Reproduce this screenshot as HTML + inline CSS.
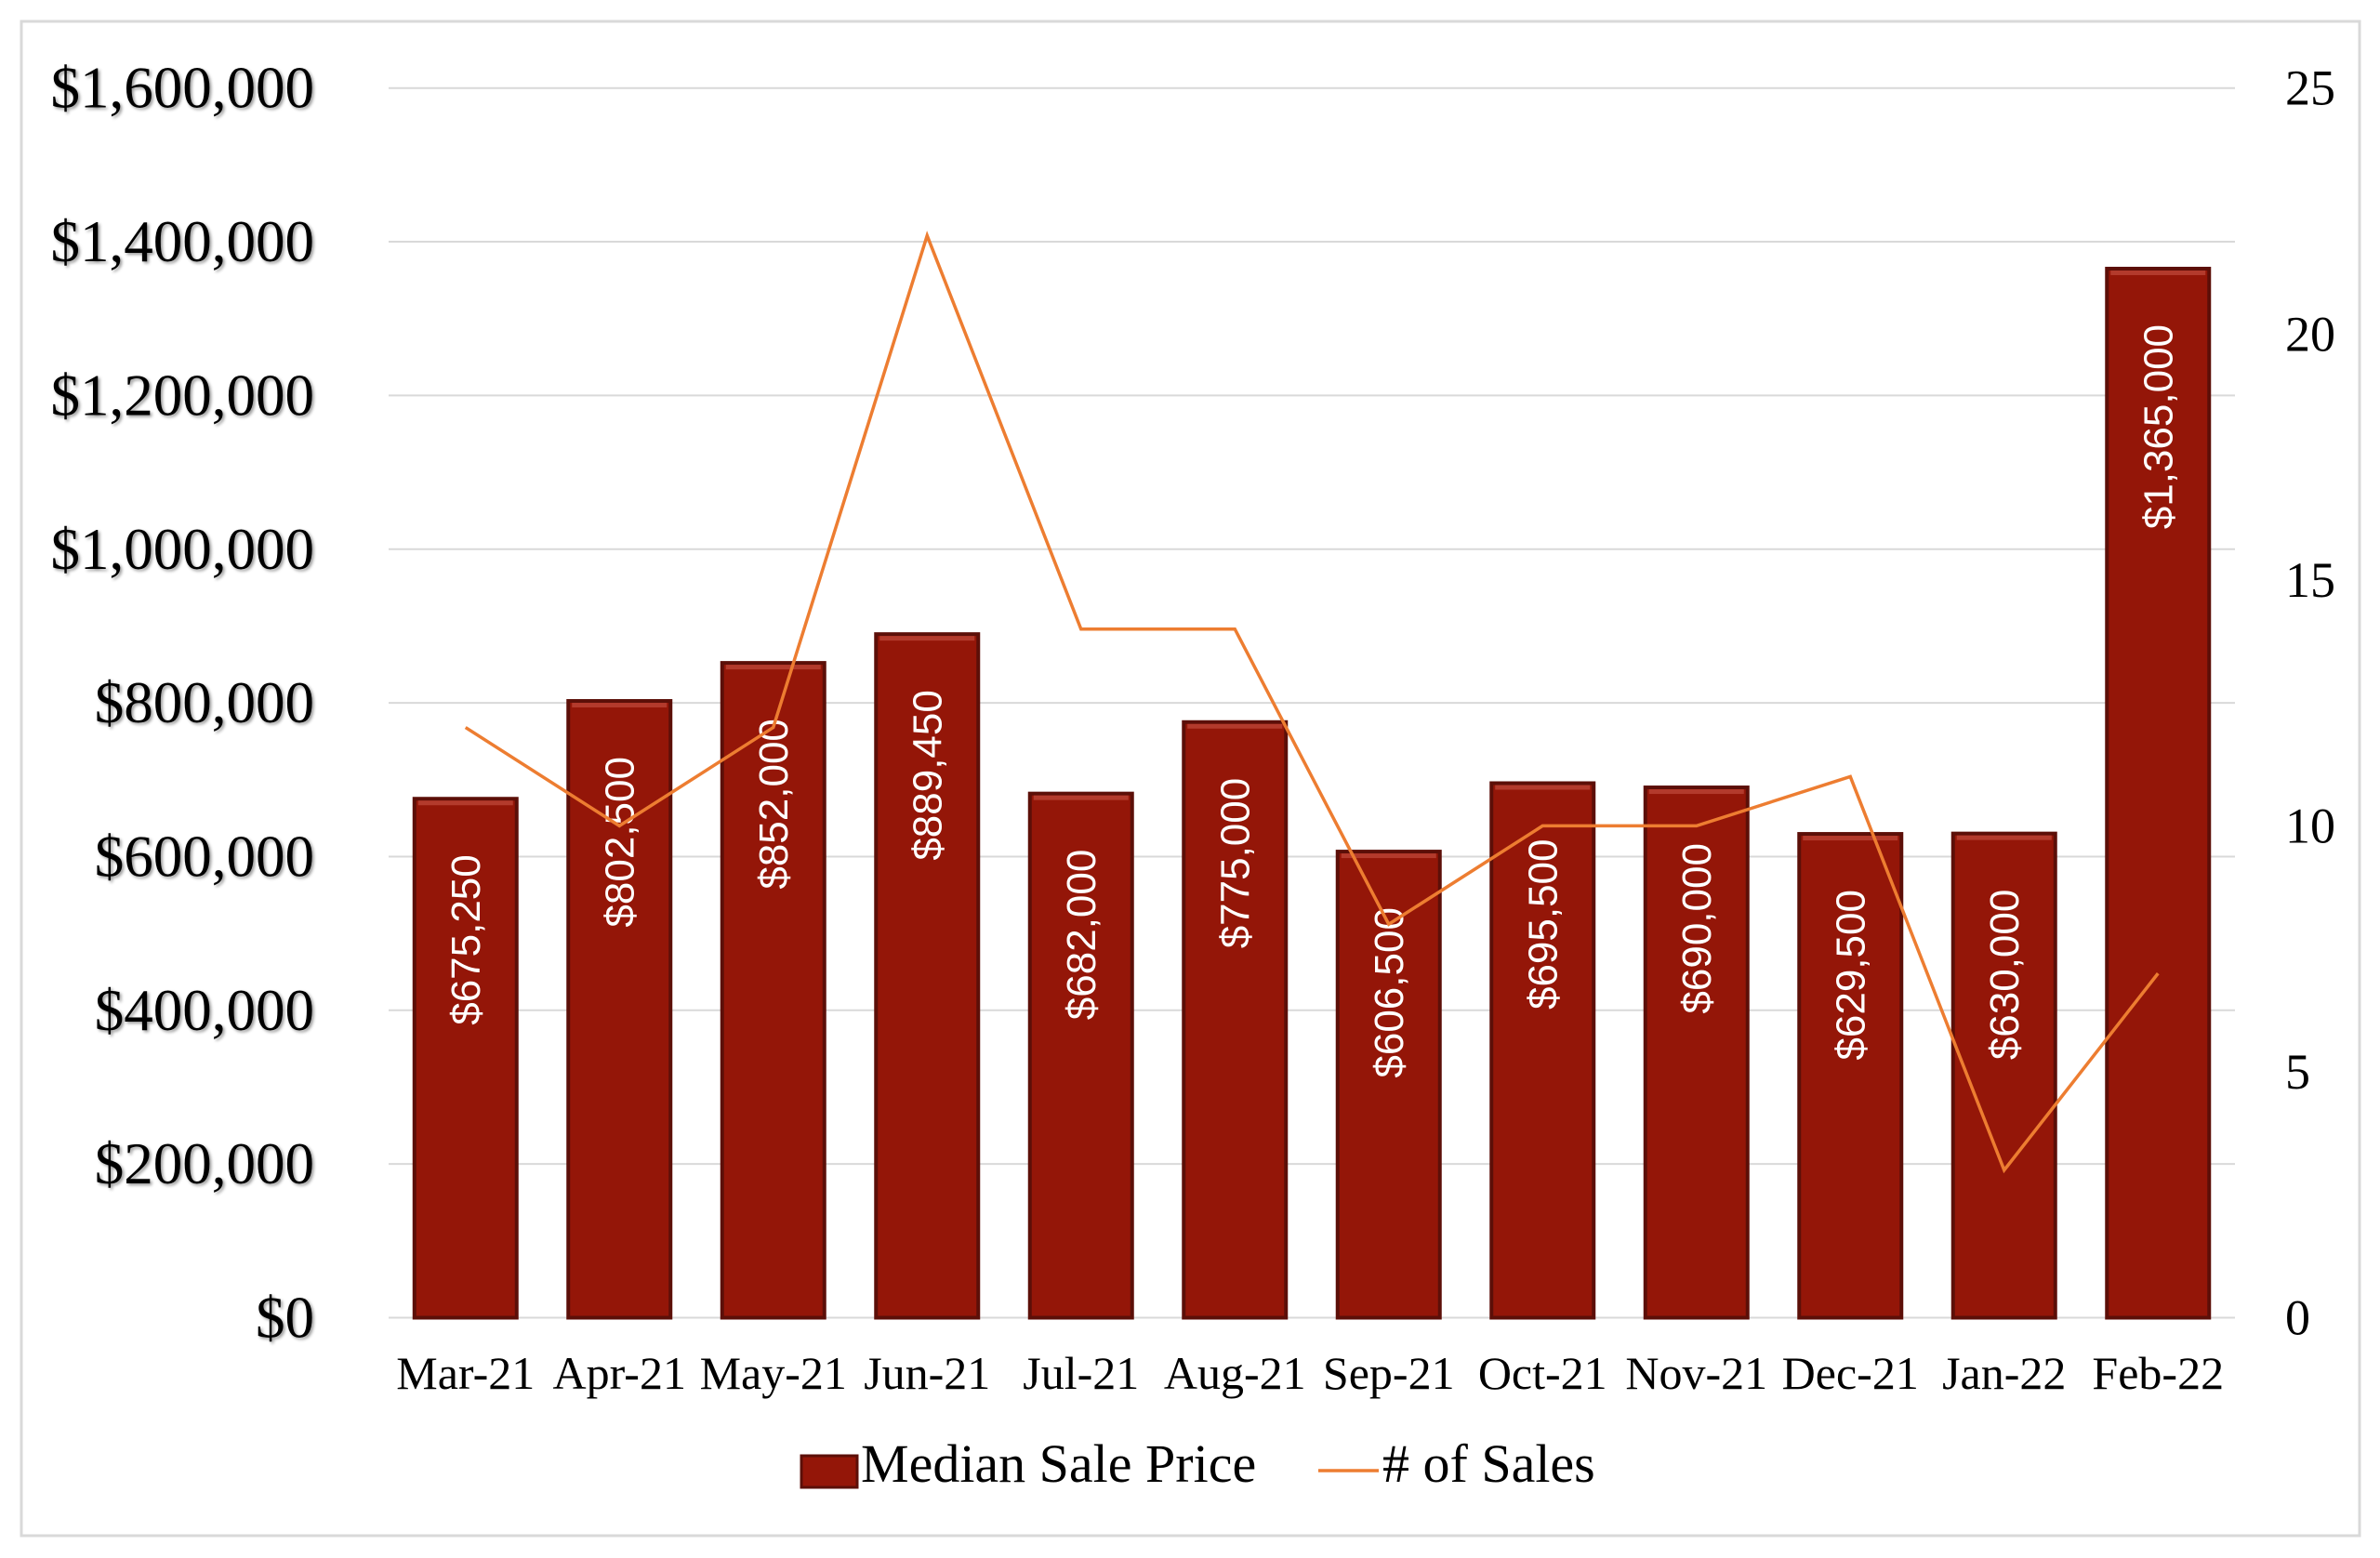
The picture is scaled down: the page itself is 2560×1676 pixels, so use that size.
<!DOCTYPE html>
<html><head><meta charset="utf-8"><style>
html,body{margin:0;padding:0;background:#fff;}
svg{display:block;}
</style></head><body>
<svg id="c" width="2560" height="1676" viewBox="0 0 2560 1676" xmlns="http://www.w3.org/2000/svg"></svg>
<script>
const s=document.getElementById('c');
let h='';
h+='<rect x="23" y="23" width="2515" height="1629" fill="#fff" stroke="#d9d9d9" stroke-width="3"/>';
const y0=1417.5, ytop=94.7, x0=418, x1=2404, cw=(x1-x0)/12;
const SERIF='font-family="Liberation Serif, serif"';
const labs=['$0','$200,000','$400,000','$600,000','$800,000','$1,000,000','$1,200,000','$1,400,000','$1,600,000'];
for(let i=0;i<=8;i++){
  const y=y0-(y0-ytop)*i/8;
  h+=`<line x1="${x0}" x2="${x1}" y1="${y}" y2="${y}" stroke="#d9d9d9" stroke-width="2"/>`;
  h+=`<text x="338" y="${y+21}" text-anchor="end" font-size="63" ${SERIF} fill="#000" style="text-shadow:2px 2px 3px #999">${labs[i]}</text>`;
}
for(let k=0;k<=5;k++){
  const y=y0-(y0-ytop)*k/5;
  h+=`<text x="2458" y="${y+18}" font-size="54" ${SERIF} fill="#000">${k*5}</text>`;
}
const cats=['Mar-21','Apr-21','May-21','Jun-21','Jul-21','Aug-21','Sep-21','Oct-21','Nov-21','Dec-21','Jan-22','Feb-22'];
const vals=[675250,802500,852000,889450,682000,775000,606500,695500,690000,629500,630000,1365000];
const sales=[12,10,12,22,14,14,8,10,10,11,3,7];
const bw=110;
for(let i=0;i<12;i++){
  const cx=x0+cw*(i+0.5);
  const top=y0-(y0-ytop)*vals[i]/1600000;
  h+=`<rect x="${cx-bw/2}" y="${top}" width="${bw}" height="${y0-top}" fill="#941608" stroke="#5c0f08" stroke-width="4"/>`;
  h+=`<rect x="${cx-bw/2+4}" y="${top+2}" width="${bw-8}" height="5" fill="#b33a2c"/>`;
  const lab='$'+vals[i].toLocaleString('en-US');
  h+=`<text transform="translate(${cx+15},${top+60}) rotate(-90)" text-anchor="end" font-size="44" font-family="Liberation Sans, sans-serif" fill="#fff">${lab}</text>`;
  h+=`<text x="${cx}" y="1494" text-anchor="middle" font-size="50" ${SERIF} fill="#000">${cats[i]}</text>`;
}
let pts=sales.map((v,i)=>`${x0+cw*(i+0.5)},${y0-(y0-ytop)*v/25}`).join(' ');
h+=`<polyline points="${pts}" fill="none" stroke="#ED7D31" stroke-width="3.5"/>`;
h+='<rect x="862" y="1566" width="60" height="34" fill="#941608" stroke="#5c0f08" stroke-width="3"/>';
h+=`<text x="926" y="1594" font-size="58" ${SERIF} fill="#000">Median Sale Price</text>`;
h+='<line x1="1418" x2="1483" y1="1582" y2="1582" stroke="#ED7D31" stroke-width="3.5"/>';
h+=`<text x="1487" y="1594" font-size="58" ${SERIF} fill="#000"># of Sales</text>`;
s.innerHTML=h;
</script>
</body></html>
